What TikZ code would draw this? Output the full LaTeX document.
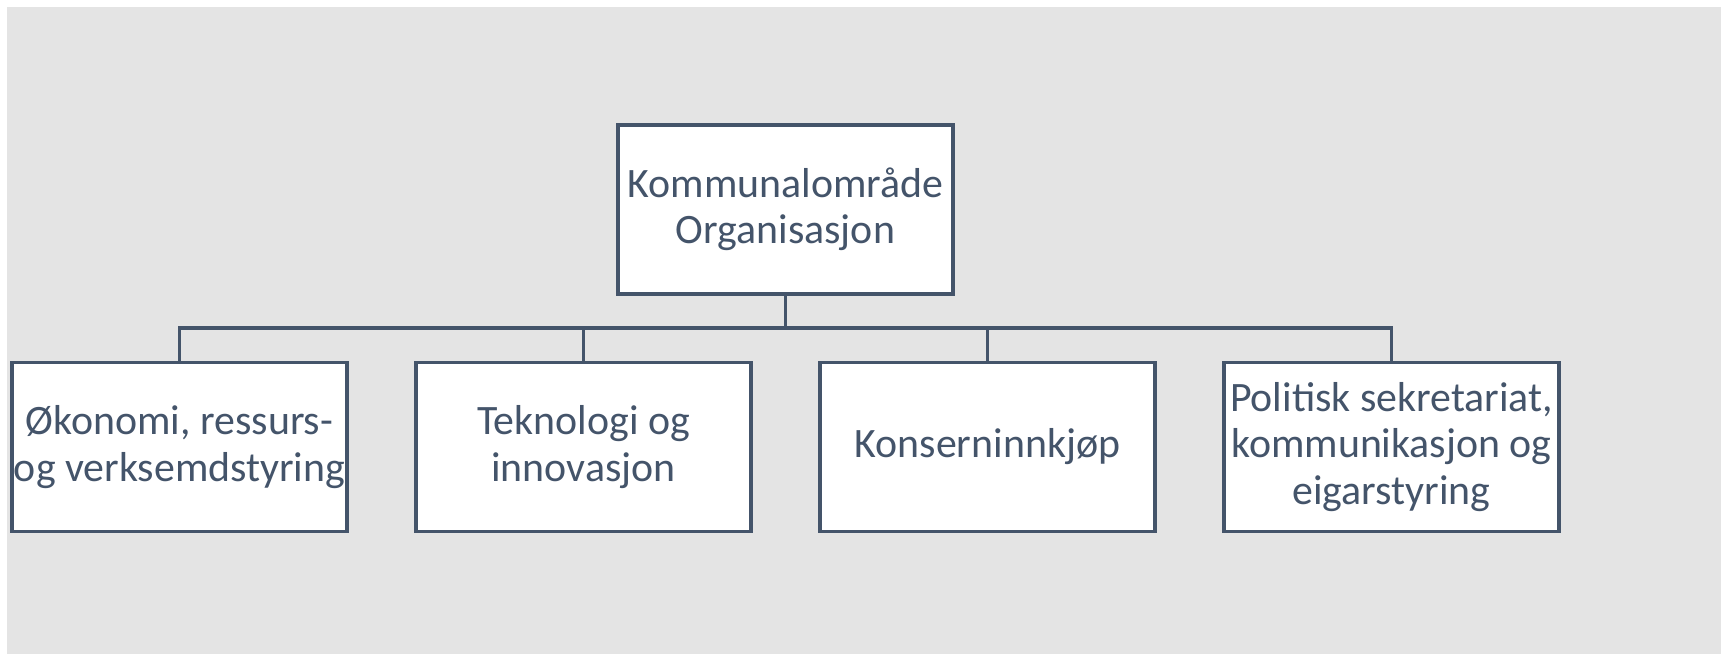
\documentclass[tikz,border=0pt]{standalone}
\usepackage{fontspec}
\setmainfont{Carlito}
\definecolor{slate}{HTML}{44546A}
\definecolor{bggray}{HTML}{E4E4E4}
\def\blist{{(179.5,447)/oko/{Økonomi, ressurs-\\og verksemdstyring}}, {(583.5,447)/tek/{Teknologi og\\innovasjon}}, {(987.5,447)/kon/{Konserninnkjøp}}, {(1391.5,447)/pol/{Politisk sekretariat,\\kommunikasjon og\\eigarstyring}}}
\tikzstyle{edge} = [draw=slate, line width=1pt, -]
\tikzstyle{unit}=[rectangle, draw=slate, line width=1pt, fill=white, text=slate, align=center, minimum width=3.35cm, minimum height=1.69cm, inner sep=0pt, font=\fontsize{11.9}{13.2}\selectfont]

\begin{document}
\begin{tikzpicture}[x=0.01cm, y=-0.01cm]
  \useasboundingbox (0,0) rectangle (1721,654);
  \fill[bggray] (7,7) rectangle (1721,654);

  \node[unit] (top) at (785.5,209.5) {Kommunalområde\\Organisasjon};
  \coordinate (bar) at (785.5,328);

  \foreach \pos/\name/\txt in \blist {
    \node[unit] (\name) at \pos {\txt};
    \path[edge] (top.south) -- (bar) -| (\name.north);
  }
\end{tikzpicture}
\end{document}
